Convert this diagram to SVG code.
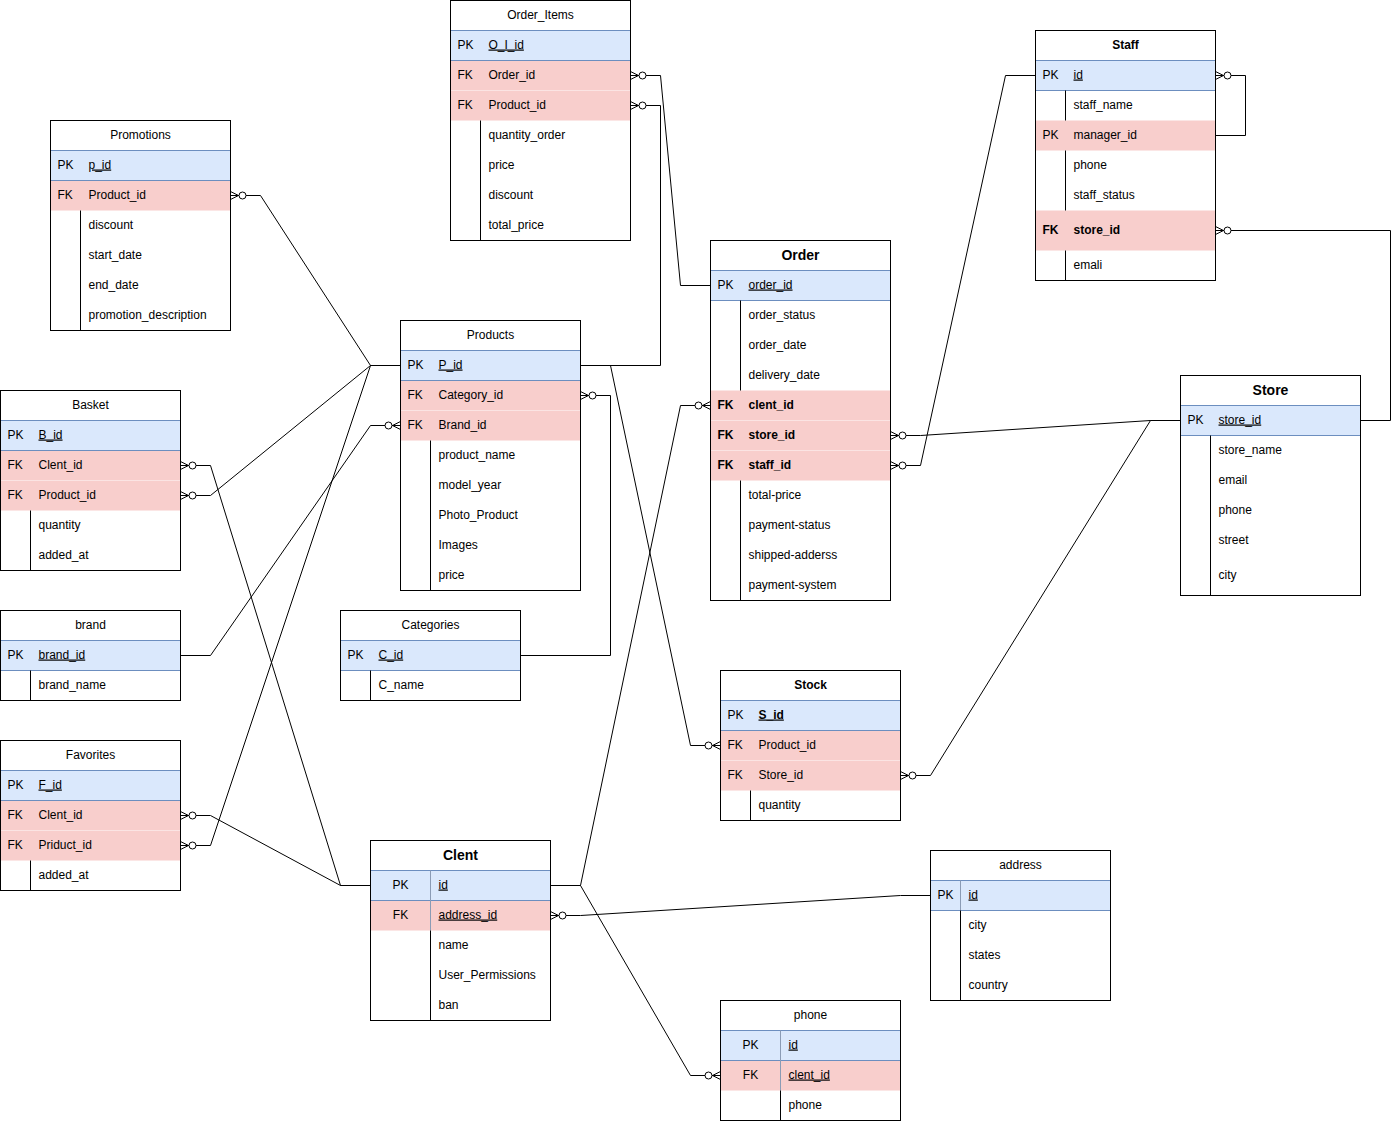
<svg xmlns="http://www.w3.org/2000/svg" width="1399" height="1121" viewBox="0 0 1399 1121">
<style>
.t{font-family:"Liberation Sans",Arial,sans-serif;font-size:12px;fill:#000;transform:translateY(-1px)}
.h{text-anchor:middle}
.b{font-weight:bold}
.big{font-size:14px;font-weight:bold}
.c{text-anchor:middle}
.u{text-decoration:underline}
.bg{fill:#fff;stroke:none}
.pk{fill:#dae8fc;stroke:#6c8ebf}
.fk{fill:#f8cecc;stroke:none}
.sep{stroke:#fbe4e3;stroke-width:1}
.box{fill:none;stroke:#000}
.dv{stroke:#000}
.dg{stroke:#8a9bb5}
.ln{fill:none;stroke:#000;stroke-width:1;marker-start:url(#zm)}
</style>
<defs>
<marker id="zm" markerUnits="userSpaceOnUse" orient="auto" refX="0" refY="0" markerWidth="20" markerHeight="20" overflow="visible">
<path d="M0,-4 L8,0 M0,4 L8,0" fill="none" stroke="#000"/>
<circle cx="12" cy="0" r="3.5" fill="#fff" stroke="#000"/>
</marker>
</defs>
<rect width="1399" height="1121" fill="#fff"/>
<g transform="translate(0.5,0.5)">

<g id="order_items">
<rect class="bg" x="450" y="0" width="180" height="240"/>
<rect class="fk" x="450" y="60" width="180" height="60"/>
<line class="sep" x1="450" y1="90" x2="630" y2="90"/>
<rect class="pk" x="450" y="30" width="180" height="30"/>
<line class="dv" x1="480" y1="120" x2="480" y2="240"/>
<text class="t h" x="540" y="19">Order_Items</text>
<text class="t" x="457" y="49">PK</text><text class="t u" x="488" y="49">O_I_id</text>
<text class="t" x="457" y="79">FK</text><text class="t" x="488" y="79">Order_id</text>
<text class="t" x="457" y="109">FK</text><text class="t" x="488" y="109">Product_id</text>
<text class="t" x="488" y="139">quantity_order</text>
<text class="t" x="488" y="169">price</text>
<text class="t" x="488" y="199">discount</text>
<text class="t" x="488" y="229">total_price</text>
<rect class="box" x="450" y="0" width="180" height="240"/>
</g>

<g id="staff">
<rect class="bg" x="1035" y="30" width="180" height="250"/>
<rect class="fk" x="1035" y="120" width="180" height="30"/>
<rect class="fk" x="1035" y="210" width="180" height="40"/>
<rect class="pk" x="1035" y="60" width="180" height="30"/>
<line class="dv" x1="1065" y1="90" x2="1065" y2="120"/>
<line class="dv" x1="1065" y1="150" x2="1065" y2="210"/>
<line class="dv" x1="1065" y1="250" x2="1065" y2="280"/>
<text class="t h b" x="1125" y="49">Staff</text>
<text class="t" x="1042" y="79">PK</text><text class="t u" x="1073" y="79">id</text>
<text class="t" x="1073" y="109">staff_name</text>
<text class="t" x="1042" y="139">PK</text><text class="t" x="1073" y="139">manager_id</text>
<text class="t" x="1073" y="169">phone</text>
<text class="t" x="1073" y="199">staff_status</text>
<text class="t b" x="1042" y="234">FK</text><text class="t b" x="1073" y="234">store_id</text>
<text class="t" x="1073" y="269">emali</text>
<rect class="box" x="1035" y="30" width="180" height="250"/>
</g>

<g id="promotions">
<rect class="bg" x="50" y="120" width="180" height="210"/>
<rect class="fk" x="50" y="180" width="180" height="30"/>
<rect class="pk" x="50" y="150" width="180" height="30"/>
<line class="dv" x1="80" y1="210" x2="80" y2="330"/>
<text class="t h" x="140" y="139">Promotions</text>
<text class="t" x="57" y="169">PK</text><text class="t u" x="88" y="169">p_id</text>
<text class="t" x="57" y="199">FK</text><text class="t" x="88" y="199">Product_id</text>
<text class="t" x="88" y="229">discount</text>
<text class="t" x="88" y="259">start_date</text>
<text class="t" x="88" y="289">end_date</text>
<text class="t" x="88" y="319">promotion_description</text>
<rect class="box" x="50" y="120" width="180" height="210"/>
</g>

<g id="products">
<rect class="bg" x="400" y="320" width="180" height="270"/>
<rect class="fk" x="400" y="380" width="180" height="60"/>
<line class="sep" x1="400" y1="410" x2="580" y2="410"/>
<rect class="pk" x="400" y="350" width="180" height="30"/>
<line class="dv" x1="430" y1="440" x2="430" y2="590"/>
<text class="t h" x="490" y="339">Products</text>
<text class="t" x="407" y="369">PK</text><text class="t u" x="438" y="369">P_id</text>
<text class="t" x="407" y="399">FK</text><text class="t" x="438" y="399">Category_id</text>
<text class="t" x="407" y="429">FK</text><text class="t" x="438" y="429">Brand_id</text>
<text class="t" x="438" y="459">product_name</text>
<text class="t" x="438" y="489">model_year</text>
<text class="t" x="438" y="519">Photo_Product</text>
<text class="t" x="438" y="549">Images</text>
<text class="t" x="438" y="579">price</text>
<rect class="box" x="400" y="320" width="180" height="270"/>
</g>

<g id="order">
<rect class="bg" x="710" y="240" width="180" height="360"/>
<rect class="fk" x="710" y="390" width="180" height="90"/>
<line class="sep" x1="710" y1="420" x2="890" y2="420"/>
<line class="sep" x1="710" y1="450" x2="890" y2="450"/>
<rect class="pk" x="710" y="270" width="180" height="30"/>
<line class="dv" x1="740" y1="300" x2="740" y2="390"/>
<line class="dv" x1="740" y1="480" x2="740" y2="600"/>
<text class="t h big" x="800" y="260">Order</text>
<text class="t" x="717" y="289">PK</text><text class="t u" x="748" y="289">order_id</text>
<text class="t" x="748" y="319">order_status</text>
<text class="t" x="748" y="349">order_date</text>
<text class="t" x="748" y="379">delivery_date</text>
<text class="t b" x="717" y="409">FK</text><text class="t b" x="748" y="409">clent_id</text>
<text class="t b" x="717" y="439">FK</text><text class="t b" x="748" y="439">store_id</text>
<text class="t b" x="717" y="469">FK</text><text class="t b" x="748" y="469">staff_id</text>
<text class="t" x="748" y="499">total-price</text>
<text class="t" x="748" y="529">payment-status</text>
<text class="t" x="748" y="559">shipped-adderss</text>
<text class="t" x="748" y="589">payment-system</text>
<rect class="box" x="710" y="240" width="180" height="360"/>
</g>

<g id="basket">
<rect class="bg" x="0" y="390" width="180" height="180"/>
<rect class="fk" x="0" y="450" width="180" height="60"/>
<line class="sep" x1="0" y1="480" x2="180" y2="480"/>
<rect class="pk" x="0" y="420" width="180" height="30"/>
<line class="dv" x1="30" y1="510" x2="30" y2="570"/>
<text class="t h" x="90" y="409">Basket</text>
<text class="t" x="7" y="439">PK</text><text class="t u" x="38" y="439">B_id</text>
<text class="t" x="7" y="469">FK</text><text class="t" x="38" y="469">Clent_id</text>
<text class="t" x="7" y="499">FK</text><text class="t" x="38" y="499">Product_id</text>
<text class="t" x="38" y="529">quantity</text>
<text class="t" x="38" y="559">added_at</text>
<rect class="box" x="0" y="390" width="180" height="180"/>
</g>

<g id="store">
<rect class="bg" x="1180" y="375" width="180" height="220"/>
<rect class="pk" x="1180" y="405" width="180" height="30"/>
<line class="dv" x1="1210" y1="435" x2="1210" y2="595"/>
<text class="t h big" x="1270" y="395">Store</text>
<text class="t" x="1187" y="424">PK</text><text class="t u" x="1218" y="424">store_id</text>
<text class="t" x="1218" y="454">store_name</text>
<text class="t" x="1218" y="484">email</text>
<text class="t" x="1218" y="514">phone</text>
<text class="t" x="1218" y="544">street</text>
<text class="t" x="1218" y="579">city</text>
<rect class="box" x="1180" y="375" width="180" height="220"/>
</g>

<g id="brand">
<rect class="bg" x="0" y="610" width="180" height="90"/>
<rect class="pk" x="0" y="640" width="180" height="30"/>
<line class="dv" x1="30" y1="670" x2="30" y2="700"/>
<text class="t h" x="90" y="629">brand</text>
<text class="t" x="7" y="659">PK</text><text class="t u" x="38" y="659">brand_id</text>
<text class="t" x="38" y="689">brand_name</text>
<rect class="box" x="0" y="610" width="180" height="90"/>
</g>

<g id="categories">
<rect class="bg" x="340" y="610" width="180" height="90"/>
<rect class="pk" x="340" y="640" width="180" height="30"/>
<line class="dv" x1="370" y1="670" x2="370" y2="700"/>
<text class="t h" x="430" y="629">Categories</text>
<text class="t" x="347" y="659">PK</text><text class="t u" x="378" y="659">C_id</text>
<text class="t" x="378" y="689">C_name</text>
<rect class="box" x="340" y="610" width="180" height="90"/>
</g>

<g id="stock">
<rect class="bg" x="720" y="670" width="180" height="150"/>
<rect class="fk" x="720" y="730" width="180" height="60"/>
<line class="sep" x1="720" y1="760" x2="900" y2="760"/>
<rect class="pk" x="720" y="700" width="180" height="30"/>
<line class="dv" x1="750" y1="790" x2="750" y2="820"/>
<text class="t h b" x="810" y="689">Stock</text>
<text class="t" x="727" y="719">PK</text><text class="t u b" x="758" y="719">S_id</text>
<text class="t" x="727" y="749">FK</text><text class="t" x="758" y="749">Product_id</text>
<text class="t" x="727" y="779">FK</text><text class="t" x="758" y="779">Store_id</text>
<text class="t" x="758" y="809">quantity</text>
<rect class="box" x="720" y="670" width="180" height="150"/>
</g>

<g id="favorites">
<rect class="bg" x="0" y="740" width="180" height="150"/>
<rect class="fk" x="0" y="800" width="180" height="60"/>
<line class="sep" x1="0" y1="830" x2="180" y2="830"/>
<rect class="pk" x="0" y="770" width="180" height="30"/>
<line class="dv" x1="30" y1="860" x2="30" y2="890"/>
<text class="t h" x="90" y="759">Favorites</text>
<text class="t" x="7" y="789">PK</text><text class="t u" x="38" y="789">F_id</text>
<text class="t" x="7" y="819">FK</text><text class="t" x="38" y="819">Clent_id</text>
<text class="t" x="7" y="849">FK</text><text class="t" x="38" y="849">Priduct_id</text>
<text class="t" x="38" y="879">added_at</text>
<rect class="box" x="0" y="740" width="180" height="150"/>
</g>

<g id="clent">
<rect class="bg" x="370" y="840" width="180" height="180"/>
<rect class="fk" x="370" y="900" width="180" height="30"/>
<rect class="pk" x="370" y="870" width="180" height="30"/>
<line class="dg" x1="430" y1="870" x2="430" y2="930"/>
<line class="dv" x1="430" y1="930" x2="430" y2="1020"/>
<text class="t h big" x="460" y="860">Clent</text>
<text class="t c" x="400" y="889">PK</text><text class="t u" x="438" y="889">id</text>
<text class="t c" x="400" y="919">FK</text><text class="t u" x="438" y="919">address_id</text>
<text class="t" x="438" y="949">name</text>
<text class="t" x="438" y="979">User_Permissions</text>
<text class="t" x="438" y="1009">ban</text>
<rect class="box" x="370" y="840" width="180" height="180"/>
</g>

<g id="address">
<rect class="bg" x="930" y="850" width="180" height="150"/>
<rect class="pk" x="930" y="880" width="180" height="30"/>
<line class="dg" x1="960" y1="880" x2="960" y2="910"/>
<line class="dv" x1="960" y1="910" x2="960" y2="1000"/>
<text class="t h" x="1020" y="869">address</text>
<text class="t c" x="945" y="899">PK</text><text class="t u" x="968" y="899">id</text>
<text class="t" x="968" y="929">city</text>
<text class="t" x="968" y="959">states</text>
<text class="t" x="968" y="989">country</text>
<rect class="box" x="930" y="850" width="180" height="150"/>
</g>

<g id="phone">
<rect class="bg" x="720" y="1000" width="180" height="120"/>
<rect class="fk" x="720" y="1060" width="180" height="30"/>
<rect class="pk" x="720" y="1030" width="180" height="30"/>
<line class="dg" x1="780" y1="1030" x2="780" y2="1090"/>
<line class="dv" x1="780" y1="1090" x2="780" y2="1120"/>
<text class="t h" x="810" y="1019">phone</text>
<text class="t c" x="750" y="1049">PK</text><text class="t u" x="788" y="1049">id</text>
<text class="t c" x="750" y="1079">FK</text><text class="t u" x="788" y="1079">clent_id</text>
<text class="t" x="788" y="1109">phone</text>
<rect class="box" x="720" y="1000" width="180" height="120"/>
</g>

<g id="connectors">
<path class="ln" d="M630,75 L660,75 L680,285 L710,285"/>
<path class="ln" d="M630,105 L660,105 L660,365 L580,365"/>
<path class="ln" d="M720,745 L690,745 L610,365 L580,365"/>
<path class="ln" d="M580,395 L610,395 L610,655 L520,655"/>
<path class="ln" d="M400,425 L370,425 L210,655 L180,655"/>
<path class="ln" d="M230,195 L260,195 L370,365 L400,365"/>
<path class="ln" d="M180,495 L210,495 L370,365 L400,365"/>
<path class="ln" d="M180,465 L210,465 L340,885 L370,885"/>
<path class="ln" d="M180,815 L210,815 L340,885 L370,885"/>
<path class="ln" d="M180,845 L210,845 L370,365 L400,365"/>
<path class="ln" d="M710,405 L680,405 L580,885 L550,885"/>
<path class="ln" d="M720,1075 L690,1075 L580,885 L550,885"/>
<path class="ln" d="M550,915 L580,915 L900,895 L930,895"/>
<path class="ln" d="M890,435 L920,435 L1150,420 L1180,420"/>
<path class="ln" d="M890,465 L920,465 L1005,75 L1035,75"/>
<path class="ln" d="M900,775 L930,775 L1150,420 L1180,420"/>
<path class="ln" d="M1215,75 L1245,75 L1245,135 L1215,135"/>
<path class="ln" d="M1215,230 L1390,230 L1390,420 L1360,420"/>
</g>
</g>
</svg>
